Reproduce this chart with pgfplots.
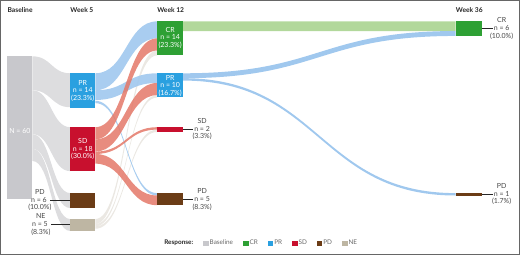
\documentclass[border=0pt]{standalone}
\usepackage{pgfplots}
\pgfplotsset{compat=1.18}
\usepackage{fontspec}
\setmainfont{Lato}

\definecolor{cGray}{RGB}{200,200,204}
\definecolor{rGray}{RGB}{221,221,223}
\definecolor{cCR}{RGB}{46,160,52}
\definecolor{rCR}{RGB}{178,216,155}
\definecolor{cPR}{RGB}{42,160,224}
\definecolor{rPR}{RGB}{160,200,238}
\definecolor{cSD}{RGB}{200,16,46}
\definecolor{rSD}{RGB}{228,120,104}
\definecolor{cPD}{RGB}{107,60,22}
\definecolor{cNE}{RGB}{190,182,163}
\definecolor{rNE}{RGB}{190,180,162}
\definecolor{txt}{RGB}{70,70,70}

% ribbon: style, x0, x1, xm, y0top, y0bot, y1top, y1bot
\newcommand{\ribbon}[8]{%
  \addplot[#1, draw=none, forget plot] coordinates {(#2,#5)}
    .. controls (axis cs:#4,#5) and (axis cs:#4,#7) .. (axis cs:#3,#7)
    -- (axis cs:#3,#8)
    .. controls (axis cs:#4,#8) and (axis cs:#4,#6) .. (axis cs:#2,#6) -- cycle;}
% box: colour, x0, x1, y0, y1
\newcommand{\flowbox}[5]{%
  \addplot[fill=#1, draw=none, forget plot] coordinates {(#2,#4) (#3,#4) (#3,#5) (#2,#5)} -- cycle;}

\tikzset{
  lab/.style={align=center, font=\fontsize{7}{7.7}\selectfont, inner sep=0pt, text=txt},
  wlab/.style={lab, text=white},
  ttl/.style={anchor=west, font=\fontsize{6.7}{7.6}\selectfont\bfseries, inner sep=0pt, text=black!85},
}

\begin{document}
\begin{tikzpicture}
\begin{axis}[
  width=520pt, height=254pt, scale only axis,
  xmin=0, xmax=520, ymin=0, ymax=254, y dir=reverse,
  axis lines=box, xtick=\empty, ytick=\empty,
  axis line style={draw=black!60, line width=0.8pt},
  clip=false,
  legend style={at={(axis cs:203,243)}, anchor=west, draw=none, fill=none,
    legend columns=-1, font=\fontsize{6.4}{7}\selectfont, text=black!60,
    inner sep=0pt, nodes={inner xsep=1.6pt, inner ysep=0.5pt},
    /tikz/every even column/.append style={column sep=8.5pt}},
  legend image code/.code={\fill[#1] (0pt,-2.2pt) rectangle (4.4pt,2.2pt);},
]
% ---- Baseline -> Week 5 ----
\ribbon{fill=rGray}{32}{70}{51}{56}{90}{73}{107}
\ribbon{fill=rGray}{32}{70}{51}{90}{134}{127}{171}
\ribbon{fill=rGray}{32}{70}{51}{134}{148.6}{193}{208}
\ribbon{fill=rGray}{32}{70}{51}{148.6}{160.8}{219}{231}
% ---- Week 5 -> Week 12 ----
\ribbon{fill=rNE, fill opacity=0.3, draw=rNE, line width=0.45pt}{95}{157}{126}{219}{223.9}{50.2}{55.1}
\ribbon{fill=rNE, fill opacity=0.3, draw=rNE, line width=0.45pt}{95}{157}{126}{223.9}{226.3}{94.9}{97.3}
\ribbon{fill=rNE, fill opacity=0.3, draw=rNE, line width=0.45pt}{95}{157}{126}{226.3}{228.7}{129.4}{131.8}
\ribbon{fill=rPR, fill opacity=0.9}{95}{157}{126}{73}{90}{21}{38}
\ribbon{fill=rPR, fill opacity=0.9}{95}{157}{126}{90}{99.7}{73}{82.7}
\ribbon{fill=rPR, fill opacity=0.9}{95}{157}{126}{100.5}{102.9}{193}{195.4}
\ribbon{fill=rSD, fill opacity=0.85}{95}{157}{126}{127}{139.2}{38}{50.2}
\ribbon{fill=rSD, fill opacity=0.85}{95}{157}{126}{139.2}{151.4}{82.7}{94.9}
\ribbon{fill=rSD, fill opacity=0.85}{95}{157}{126}{151.4}{153.8}{127}{129.4}
\ribbon{fill=rSD, fill opacity=0.85}{95}{157}{126}{153.8}{163.5}{195.4}{205.1}
% ---- Week 12 -> Week 36 ----
\ribbon{fill=rCR}{183}{456}{319.5}{21}{30.7}{21}{30.7}
\ribbon{fill=rPR}{183}{456}{319.5}{73}{77.9}{30.7}{35.6}
\ribbon{fill=rPR}{183}{456}{319.5}{77.9}{80.3}{193}{195.4}
% ---- nodes ----
\flowbox{cGray}{7}{32}{56}{199}
\flowbox{cPR}{70}{95}{73}{108}
\flowbox{cSD}{70}{95}{127}{171}
\flowbox{cPD}{70}{95}{193}{208}
\flowbox{cNE}{70}{95}{219}{231}
\flowbox{cCR}{157}{183}{21}{55}
\flowbox{cPR}{157}{183}{73}{97}
\flowbox{cSD}{157}{183}{127}{132}
\flowbox{cPD}{157}{183}{193}{205}
\flowbox{cCR}{456}{482}{21}{35.6}
\flowbox{cPD}{456}{482}{193}{195.4}
% ---- leader lines ----
\addplot[black!85, line width=0.8pt, forget plot] coordinates {(50,200) (70,200)};
\addplot[black!85, line width=0.8pt, forget plot] coordinates {(51,224.5) (70,224.5)};
\addplot[black!85, line width=0.8pt, forget plot] coordinates {(183,129.4) (193,129.4)};
\addplot[black!85, line width=0.8pt, forget plot] coordinates {(183,199.5) (193,199.5)};
\addplot[black!85, line width=0.8pt, forget plot] coordinates {(482,28) (493,28)};
\addplot[black!85, line width=0.8pt, forget plot] coordinates {(482,194) (493,194)};
% ---- legend ----
\addlegendimage{cGray}\addlegendentry{Baseline}
\addlegendimage{cCR}\addlegendentry{CR}
\addlegendimage{cPR}\addlegendentry{PR}
\addlegendimage{cSD}\addlegendentry{SD}
\addlegendimage{cPD}\addlegendentry{PD}
\addlegendimage{cNE}\addlegendentry{NE}
% ---- texts ----
\node[ttl] at (axis cs:7,10) {Baseline};
\node[ttl] at (axis cs:70,10) {Week 5};
\node[ttl] at (axis cs:157,10) {Week 12};
\node[ttl] at (axis cs:456,10) {Week 36};
\node[ttl, font=\fontsize{6.4}{7}\selectfont\bfseries] at (axis cs:164,243) {Response:};
\node[wlab] at (axis cs:19.5,131) {N = 60};
\node[wlab] at (axis cs:82.5,90.5) {PR\\n = 14\\(23.3\%)};
\node[wlab] at (axis cs:82.5,149) {SD\\n = 18\\(30.0\%)};
\node[wlab] at (axis cs:170,37.5) {CR\\n = 14\\(23.3\%)};
\node[wlab] at (axis cs:170,85.5) {PR\\n = 10\\(16.7\%)};
\node[lab] at (axis cs:39.5,200) {PD\\n = 6\phantom{i}\\(10.0\%)};
\node[lab] at (axis cs:40.5,224.5) {NE\\n = 5\phantom{i}\\(8.3\%)};
\node[lab] at (axis cs:202,129) {SD\\n = 2\\(3.3\%)};
\node[lab] at (axis cs:202,199.5) {PD\\n = 5\\(8.3\%)};
\node[lab] at (axis cs:502,28) {CR\\n = 6\\(10.0\%)};
\node[lab] at (axis cs:502,194) {PD\\n = 1\\(1.7\%)};
\end{axis}
\end{tikzpicture}
\end{document}
